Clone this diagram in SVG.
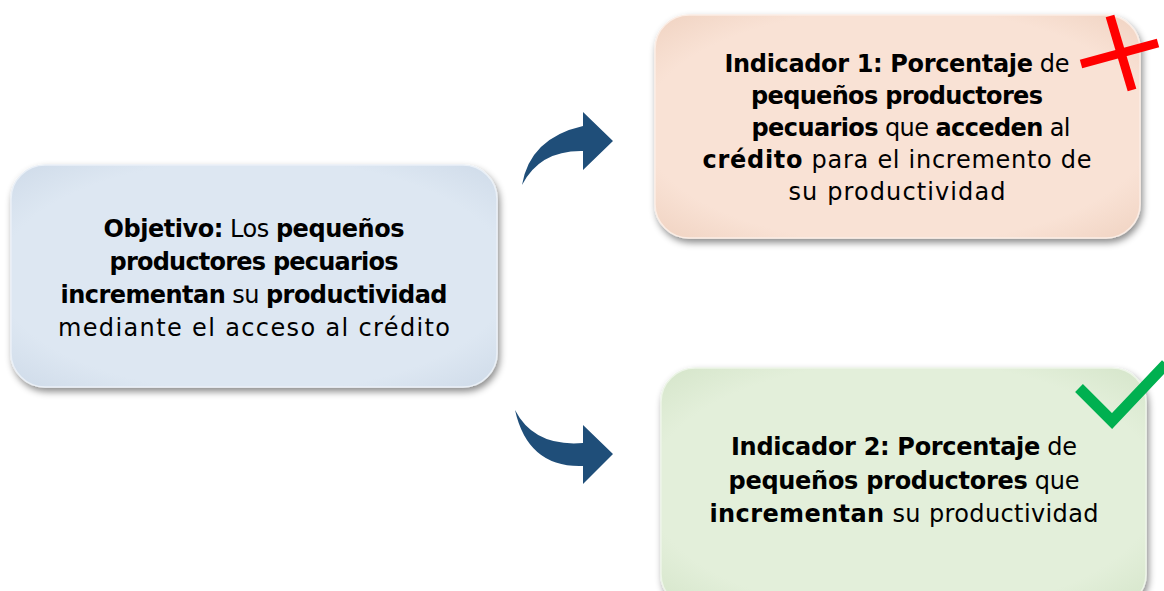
<svg xmlns="http://www.w3.org/2000/svg" width="1164" height="591" viewBox="0 0 1164 591">
<style>
.t{font-family:"DejaVu Sans","Liberation Sans",sans-serif;font-size:24px;fill:#000;text-anchor:middle}
.b{font-weight:bold}
.arrow{fill:#1f4e79}
</style>
<defs>
<filter id="sh" x="-10%" y="-10%" width="120%" height="130%">
<feDropShadow dx="2" dy="4" stdDeviation="3.5" flood-color="#000" flood-opacity="0.45"/>
</filter>
<radialGradient id="gBlue" cx="50%" cy="50%" r="70%">
<stop offset="0.75" stop-color="#dde7f2"/>
<stop offset="1" stop-color="#cfdbe9"/>
</radialGradient>
<radialGradient id="gPeach" cx="50%" cy="50%" r="70%">
<stop offset="0.75" stop-color="#f9e2d5"/>
<stop offset="1" stop-color="#f0d3c2"/>
</radialGradient>
<radialGradient id="gGreen" cx="50%" cy="50%" r="70%">
<stop offset="0.75" stop-color="#e3efda"/>
<stop offset="1" stop-color="#d5e5ca"/>
</radialGradient>
</defs>
<rect width="1164" height="591" fill="#fff"/>
<g id="connectors">
<path class="arrow" d="M522,185 Q530,138 583,126 L583,112 L613,141 L583,170 L583,151 Q540,150 522,185 Z"/>
<path class="arrow" d="M515,410 Q534,447 583,443 L583,425 L613,454 L583,484 L583,466 Q528,468 515,410 Z"/>
</g>
<g id="objetivo">
<rect x="11" y="165" width="486" height="222" rx="34" fill="url(#gBlue)" stroke="#eaf0f7" stroke-width="1.5" filter="url(#sh)"/>
<text class="t" x="254" y="237" textLength="301" lengthAdjust="spacing"><tspan class="b">Objetivo:</tspan> Los <tspan class="b">pequeños</tspan></text>
<text class="t" x="254" y="270" textLength="289" lengthAdjust="spacing"><tspan class="b">productores pecuarios</tspan></text>
<text class="t" x="254" y="303" textLength="387" lengthAdjust="spacing"><tspan class="b">incrementan</tspan> su <tspan class="b">productividad</tspan></text>
<text class="t" x="254" y="336" textLength="392" lengthAdjust="spacing">mediante el acceso al crédito</text>
</g>
<g id="indicador1">
<rect x="655" y="15" width="485" height="223" rx="34" fill="url(#gPeach)" stroke="#fbede5" stroke-width="1.5" filter="url(#sh)"/>
<text class="t" x="897" y="72" textLength="345" lengthAdjust="spacing"><tspan class="b">Indicador 1: Porcentaje</tspan> de</text>
<text class="t" x="897" y="104" textLength="292" lengthAdjust="spacing"><tspan class="b">pequeños productores</tspan></text>
<text class="t" x="911" y="136" textLength="319" lengthAdjust="spacing"><tspan class="b">pecuarios</tspan> que <tspan class="b">acceden</tspan> al</text>
<text class="t" x="897" y="168" textLength="389" lengthAdjust="spacing"><tspan class="b">crédito</tspan> para el incremento de</text>
<text class="t" x="897" y="200" textLength="217" lengthAdjust="spacing">su productividad</text>
<path d="M1081,64 L1158,43" stroke="#ff0000" stroke-width="9" fill="none"/>
<path d="M1110,16 L1132,90" stroke="#ff0000" stroke-width="9" fill="none"/>
</g>
<g id="indicador2">
<rect x="661" y="368" width="485" height="240" rx="34" fill="url(#gGreen)" stroke="#edf5e8" stroke-width="1.5" filter="url(#sh)"/>
<text class="t" x="904" y="455" textLength="346" lengthAdjust="spacing"><tspan class="b">Indicador 2: Porcentaje</tspan> de</text>
<text class="t" x="904" y="489" textLength="351" lengthAdjust="spacing"><tspan class="b">pequeños productores</tspan> que</text>
<text class="t" x="904" y="522" textLength="389" lengthAdjust="spacing"><tspan class="b">incrementan</tspan> su productividad</text>
<path d="M1079,388 L1112,421 L1166,364" stroke="#00b050" stroke-width="11" fill="none"/>
</g>
</svg>
